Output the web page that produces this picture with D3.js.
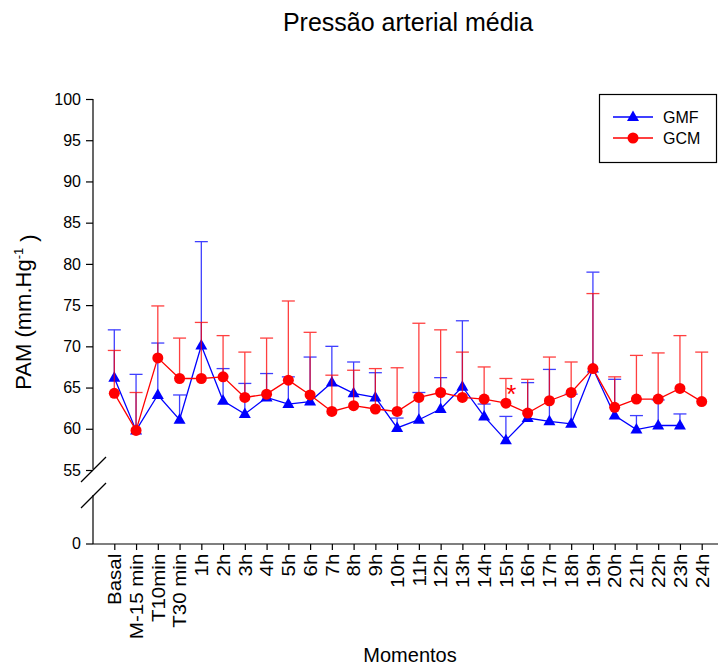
<!DOCTYPE html>
<html>
<head>
<meta charset="utf-8">
<script src="https://cdn.jsdelivr.net/npm/d3@7"></script>
<style>
  html, body { margin: 0; padding: 0; background: #fff; }
  svg { display: block; font-family: "Liberation Sans", Arial, sans-serif; }
</style>
</head>
<body>
<svg id="chart" width="718" height="666"></svg>
<script>
const categories = ["Basal","M-15 min","T10min","T30 min","1h","2h","3h","4h","5h","6h","7h","8h","9h","10h","11h","12h","13h","14h","15h","16h","17h","18h","19h","20h","21h","22h","23h","24h"];
const gmfMean  = [66.2,59.8,64.1,61.1,70.1,63.4,61.8,63.8,63.0,63.3,65.6,64.3,63.8,60.1,61.1,62.4,65.1,61.5,58.6,61.3,60.9,60.6,67.3,61.6,59.9,60.4,60.4,null];
const gmfUpper = [72.0,66.6,70.4,64.1,82.7,67.3,65.5,66.7,66.3,68.7,70.0,68.1,66.8,61.3,64.4,66.2,73.1,63.0,61.5,65.6,67.2,64.2,79.0,66.0,61.6,63.5,61.8,null];
const gcmMean  = [64.3,59.8,68.6,66.1,66.1,66.3,63.8,64.2,65.9,64.1,62.1,62.8,62.4,62.1,63.8,64.4,63.8,63.6,63.1,61.9,63.4,64.4,67.3,62.6,63.6,63.6,64.9,63.3];
const gcmUpper = [69.5,64.4,74.9,71.0,72.9,71.3,69.3,71.0,75.5,71.7,66.5,67.1,67.3,67.4,72.8,72.0,69.3,67.5,66.1,66.0,68.7,68.1,76.4,66.3,68.9,69.2,71.3,69.3];
const yTicksUpper = [55,60,65,70,75,80,85,90,95,100];
const yTicksLower = [0];
const seriesNames = ["GMF","GCM"];
const markValue = {cat: "15h", value: 64.8};

const svg = d3.select("#chart");
const FONT = "\"Liberation Sans\", Arial, sans-serif";

// scales
const x = d3.scalePoint().domain(categories).range([114.3, 701.7]);
const yUp = d3.scaleLinear().domain([55, 100]).range([470, 99]);
const yLow = d3.scaleLinear().domain([0, 1]).range([543.5, 535]);
const axisLeftX = 93, axisBottomY = 544;

// title
svg.append("text").attr("x", 408).attr("y", 31).attr("text-anchor", "middle")
  .style("font-size", "25px").text("Pressão arterial média");

// y axis upper
const gYU = svg.append("g").attr("transform", `translate(${axisLeftX},0)`)
  .call(d3.axisLeft(yUp).tickValues(yTicksUpper).tickSize(7).tickPadding(5).tickFormat(d3.format("d")));
gYU.select(".domain").attr("d", `M0,${yUp(100)}V469`);
const gYL = svg.append("g").attr("transform", `translate(${axisLeftX},0)`)
  .call(d3.axisLeft(yLow).tickValues(yTicksLower).tickSize(7).tickPadding(5).tickFormat(d3.format("d")));
gYL.select(".domain").attr("d", `M0,495V${axisBottomY}`);
[gYU, gYL].forEach(g => {
  g.selectAll("text").style("font-size", "16px").style("font-family", FONT).attr("fill", "#000");
  g.selectAll("line, path").attr("stroke", "#000").attr("stroke-width", 1.2);
});
// break marks
svg.append("line").attr("x1", 81).attr("y1", 482).attr("x2", 106).attr("y2", 457).attr("stroke", "#000").attr("stroke-width", 1.2);
svg.append("line").attr("x1", 81).attr("y1", 508).attr("x2", 106).attr("y2", 483).attr("stroke", "#000").attr("stroke-width", 1.2);

// x axis
const gX = svg.append("g").attr("transform", `translate(0,${axisBottomY})`)
  .call(d3.axisBottom(x).tickSize(6).tickPadding(4));
gX.select(".domain").attr("d", `M${axisLeftX},0H718`);
gX.selectAll("line, path").attr("stroke", "#000").attr("stroke-width", 1.2);
gX.selectAll("text")
  .style("font-size", "18px").style("font-family", FONT).attr("fill", "#000")
  .attr("text-anchor", "end").attr("dy", "0.35em")
  .attr("transform", "rotate(-90) scale(1.14,1)").attr("x", -8.5).attr("y", 0);

// axis labels
svg.append("text").attr("x", 410).attr("y", 662).attr("text-anchor", "middle")
  .style("font-size", "20px").text("Momentos");
const yl = svg.append("text").attr("transform", "translate(31,312) rotate(-90)")
  .attr("text-anchor", "middle").style("font-size", "22px");
yl.append("tspan").text("PAM (mm.Hg");
yl.append("tspan").attr("dy", "-0.6em").style("font-size", "13px").text("-1");
yl.append("tspan").attr("dy", "0.6em").text(" )");

// series
const series = [
  {name: seriesNames[0], mean: gmfMean, upper: gmfUpper, color: "#0000ff", shape: "tri"},
  {name: seriesNames[1], mean: gcmMean, upper: gcmUpper, color: "#ff0000", shape: "circ"}
];
const triPath = "M0,-6.5L6,4L-6,4Z";

series.forEach(s => {
  const pts = categories.map((c, i) => ({c, m: s.mean[i], u: s.upper[i]})).filter(d => d.m != null);
  const g = svg.append("g");
  const eb = g.append("g").attr("stroke", s.color).attr("stroke-width", 1.3).attr("opacity", 0.75);
  pts.forEach(d => {
    eb.append("line").attr("x1", x(d.c)).attr("x2", x(d.c)).attr("y1", yUp(d.m)).attr("y2", yUp(d.u));
    eb.append("line").attr("x1", x(d.c) - 6.5).attr("x2", x(d.c) + 6.5).attr("y1", yUp(d.u)).attr("y2", yUp(d.u));
  });
  g.append("path").datum(pts)
    .attr("d", d3.line().x(d => x(d.c)).y(d => yUp(d.m)))
    .attr("fill", "none").attr("stroke", s.color).attr("stroke-width", 1.3);
  pts.forEach(d => {
    if (s.shape === "tri") {
      g.append("path").attr("d", triPath).attr("transform", `translate(${x(d.c)},${yUp(d.m)})`).attr("fill", s.color);
    } else {
      g.append("circle").attr("cx", x(d.c)).attr("cy", yUp(d.m)).attr("r", 5.5).attr("fill", s.color);
    }
  });
});

// significance mark
svg.append("text").attr("x", x(markValue.cat) + 5.5).attr("y", yUp(markValue.value) + 14)
  .attr("text-anchor", "middle").attr("fill", "#ff0000").style("font-size", "26px").text("*");

// legend
const lg = svg.append("g");
lg.append("rect").attr("x", 599.5).attr("y", 94.5).attr("width", 117).attr("height", 68)
  .attr("fill", "#fff").attr("stroke", "#000").attr("stroke-width", 1.2);
series.forEach((s, i) => {
  const yy = 117 + i * 21;
  lg.append("line").attr("x1", 613).attr("x2", 653).attr("y1", yy).attr("y2", yy).attr("stroke", s.color).attr("stroke-width", 1.3);
  if (s.shape === "tri") lg.append("path").attr("d", triPath).attr("transform", `translate(633,${yy})`).attr("fill", s.color);
  else lg.append("circle").attr("cx", 633).attr("cy", yy).attr("r", 5.5).attr("fill", s.color);
  lg.append("text").attr("x", 663).attr("y", yy + 6).style("font-size", "16px").text(s.name);
});
</script>
</body>
</html>
